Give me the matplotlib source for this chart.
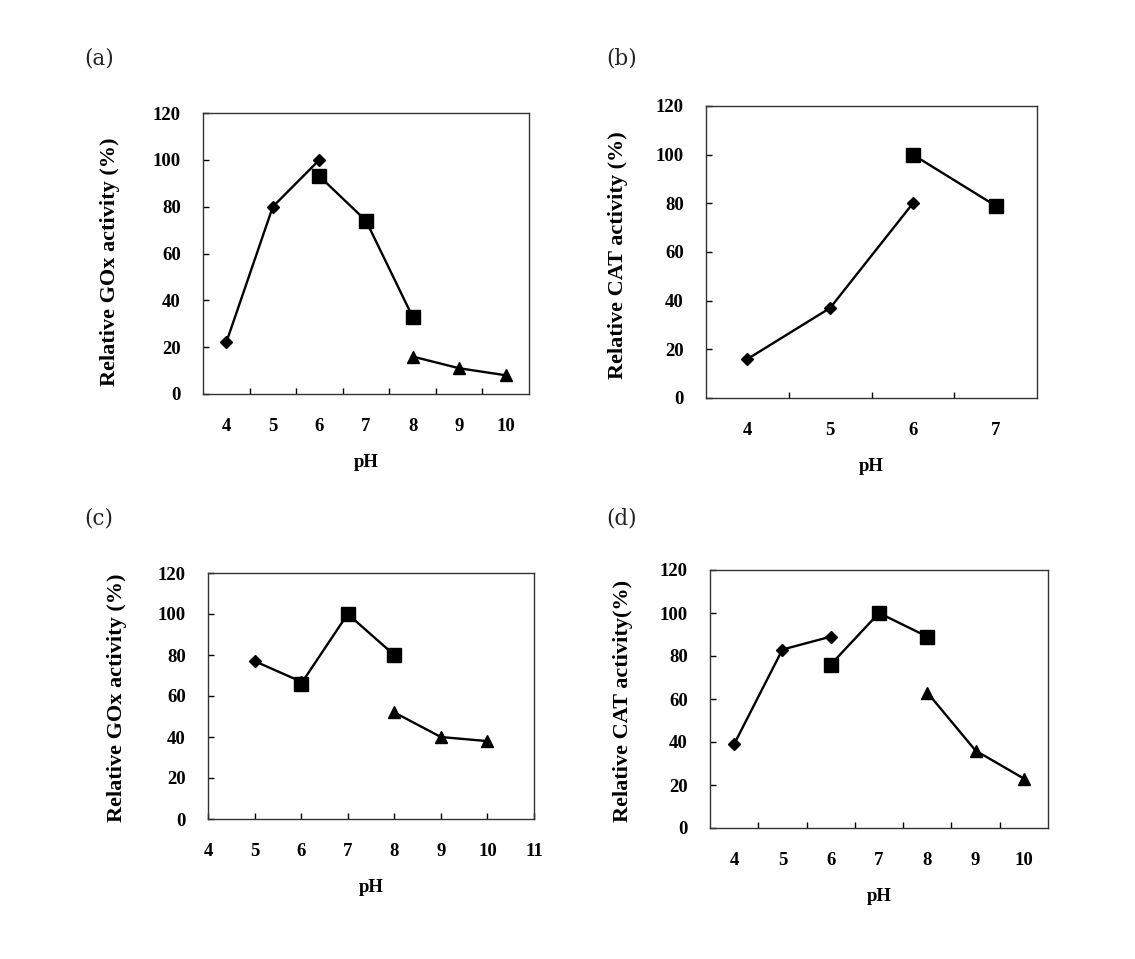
import numpy as np
import matplotlib.pyplot as plt

plt.rcParams['font.family'] = 'serif'
plt.rcParams['font.serif'] = ['Liberation Serif', 'DejaVu Serif']
plt.rcParams['font.weight'] = 'bold'

# (a) relative GOx activity
a_dia_x = [4, 5, 6]
a_dia_y = [22, 80, 100]
a_sq_x = [6, 7, 8]
a_sq_y = [93, 74, 33]
a_tri_x = [8, 9, 10]
a_tri_y = [16, 11, 8]

# (b) relative CAT activity
b_dia_x = [4, 5, 6]
b_dia_y = [16, 37, 80]
b_sq_x = [6, 7]
b_sq_y = [100, 79]

# (c) relative GOx activity
c_dia_x = [5, 6]
c_dia_y = [77, 67]
c_sq_x = [6, 7, 8]
c_sq_y = [66, 100, 80]
c_tri_x = [8, 9, 10]
c_tri_y = [52, 40, 38]

# (d) relative CAT activity
d_dia_x = [4, 5, 6]
d_dia_y = [39, 83, 89]
d_sq_x = [6, 7, 8]
d_sq_y = [76, 100, 89]
d_tri_x = [8, 9, 10]
d_tri_y = [63, 36, 23]

W, H = 1135, 959
fig = plt.figure(figsize=(W / 100, H / 100), dpi=100)


def make_ax(l, t, r, b):
    # pixel box -> figure fraction
    return fig.add_axes([l / W, 1 - b / H, (r - l) / W, (b - t) / H])


def series(ax, x, y, marker, ms):
    ax.plot(x, y, color='k', lw=1.7, marker=marker, ms=ms, mfc='k', mec='k',
            zorder=3, clip_on=False)


def style(ax, cats=None, xticks=None):
    ax.set_ylim(0, 120)
    ax.set_yticks(range(0, 121, 20))
    if cats is not None:
        # category axis: marks between categories, labels at centres
        ax.set_xlim(cats[0] - 0.5, cats[-1] + 0.5)
        ax.set_xticks([c + 0.5 for c in cats[:-1]])
        ax.set_xticklabels([])
        ax.set_xticks(cats, minor=True)
        ax.set_xticklabels([str(c) for c in cats], minor=True)
        ax.tick_params(axis='x', which='minor', length=0, pad=17, labelsize=13.5)
        ax.tick_params(axis='x', which='major', direction='in', length=4, width=1)
    else:
        ax.set_xlim(xticks[0], xticks[-1])
        ax.set_xticks(xticks)
        ax.tick_params(axis='x', direction='in', length=4, width=1, pad=17,
                       labelsize=13.5)
    ax.tick_params(axis='y', direction='in', length=4, width=1, pad=16,
                   labelsize=13.5)
    for s in ax.spines.values():
        s.set_linewidth(1.0)
        s.set_color('#333333')
    ax.set_xlabel('pH', fontsize=13.5, fontweight='bold', labelpad=14)


def panel_tag(x, y, s):
    fig.text(x / W, 1 - y / H, s, fontsize=15.5, family='DejaVu Serif',
             weight='normal', va='center', color='#222222')


# (a)
ax = make_ax(203, 113, 529, 394)
series(ax, a_dia_x, a_dia_y, 'D', 6.5)
series(ax, a_sq_x, a_sq_y, 's', 10)
series(ax, a_tri_x, a_tri_y, '^', 8.5)
style(ax, cats=[4, 5, 6, 7, 8, 9, 10])
fig.text(110 / W, 1 - 262 / H, 'Relative GOx activity (%)', rotation=90,
         ha='center', va='center', fontsize=16)
panel_tag(84, 58, '(a)')

# (b)
ax = make_ax(706, 106, 1037, 398)
series(ax, b_dia_x, b_dia_y, 'D', 6.5)
series(ax, b_sq_x, b_sq_y, 's', 10)
style(ax, cats=[4, 5, 6, 7])
fig.text(618 / W, 1 - 255 / H, 'Relative CAT activity (%)', rotation=90,
         ha='center', va='center', fontsize=16)
panel_tag(606, 58, '(b)')

# (c)
ax = make_ax(208, 573, 534, 819)
series(ax, c_dia_x, c_dia_y, 'D', 6.5)
series(ax, c_sq_x, c_sq_y, 's', 10)
series(ax, c_tri_x, c_tri_y, '^', 8.5)
style(ax, xticks=[4, 5, 6, 7, 8, 9, 10, 11])
fig.text(117 / W, 1 - 698 / H, 'Relative GOx activity (%)', rotation=90,
         ha='center', va='center', fontsize=16)
panel_tag(84, 518, '(c)')

# (d)
ax = make_ax(710, 570, 1048, 828)
series(ax, d_dia_x, d_dia_y, 'D', 6.5)
series(ax, d_sq_x, d_sq_y, 's', 10)
series(ax, d_tri_x, d_tri_y, '^', 8.5)
style(ax, cats=[4, 5, 6, 7, 8, 9, 10])
fig.text(623 / W, 1 - 701 / H, 'Relative CAT activity(%)', rotation=90,
         ha='center', va='center', fontsize=16)
panel_tag(606, 518, '(d)')

fig.savefig('out.png', dpi=100)
